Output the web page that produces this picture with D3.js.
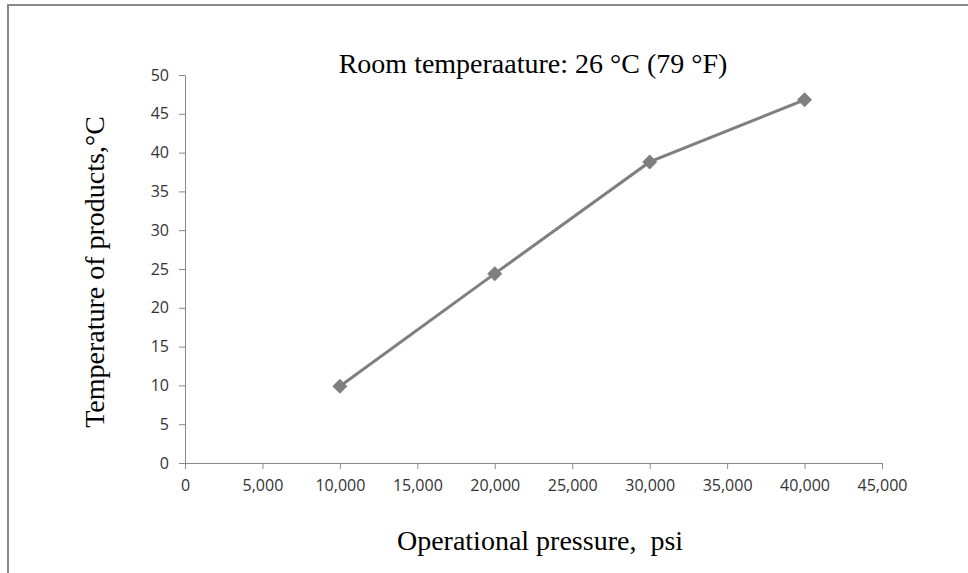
<!DOCTYPE html>
<html>
<head>
<meta charset="utf-8">
<script src="https://cdn.jsdelivr.net/npm/d3@7"></script>
<style>
body { margin: 0; background: #fff; }
.tick text { font-family: "Open Sans", sans-serif; font-size: 16px; fill: #333; }
.domain, .tick line { stroke: #898989; }
</style>
</head>
<body>
<script>
const W = 968, H = 573
const pressure = [10000, 20000, 30000, 40000]
const temperature = [9.9, 24.4, 38.8, 46.8]
const xTicks = [0, 5000, 10000, 15000, 20000, 25000, 30000, 35000, 40000, 45000]
const yTicks = [0, 5, 10, 15, 20, 25, 30, 35, 40, 45, 50]

var svg = d3.select("body").append("svg")
    .attr("width", W)
    .attr("height", H)

// outer frame
svg.append("rect")
    .attr("x", 8).attr("y", 5)
    .attr("width", W).attr("height", H)
    .attr("fill", "none")
    .attr("stroke", "#888")
    .attr("stroke-width", 2)

var x = d3.scaleLinear().domain([0, 45000]).range([185, 882])
var y = d3.scaleLinear().domain([0, 50]).range([463, 75])

svg.append("g")
    .attr("transform", "translate(0," + y(0) + ")")
    .call(d3.axisBottom(x).tickValues(xTicks).tickSize(6).tickSizeOuter(0).tickPadding(11).tickFormat(d3.format(",")))

svg.append("g")
    .attr("transform", "translate(" + x(0) + ",0)")
    .call(d3.axisLeft(y).tickValues(yTicks).tickSize(6).tickSizeOuter(0).tickPadding(10))

var pts = pressure.map(function(p, i){ return [p, temperature[i]] })

svg.append("path")
    .datum(pts)
    .attr("d", d3.line().x(d => x(d[0])).y(d => y(d[1])))
    .attr("fill", "none")
    .attr("stroke", "#7f7f7f")
    .attr("stroke-width", 3)

svg.selectAll(".marker")
    .data(pts)
    .enter().append("path")
    .attr("transform", d => "translate(" + x(d[0]) + "," + y(d[1]) + ")")
    .attr("d", "M0,-7.5L7.5,0L0,7.5L-7.5,0Z")
    .attr("fill", "#7f7f7f")

svg.append("text")
    .attr("x", 533).attr("y", 73)
    .attr("text-anchor", "middle")
    .style("font-family", "Liberation Serif, serif")
    .style("font-size", "28px")
    .text("Room temperaature: 26 °C (79 °F)")

svg.append("text")
    .attr("transform", "translate(104,272) rotate(-90)")
    .attr("text-anchor", "middle")
    .style("font-family", "Liberation Serif, serif")
    .style("font-size", "28px")
    .text("Temperature of products,°C")

svg.append("text")
    .attr("x", 540).attr("y", 550)
    .attr("text-anchor", "middle")
    .style("font-family", "Liberation Serif, serif")
    .style("font-size", "28px")
    .style("white-space", "pre")
    .text("Operational pressure,  psi")
</script>
</body>
</html>
